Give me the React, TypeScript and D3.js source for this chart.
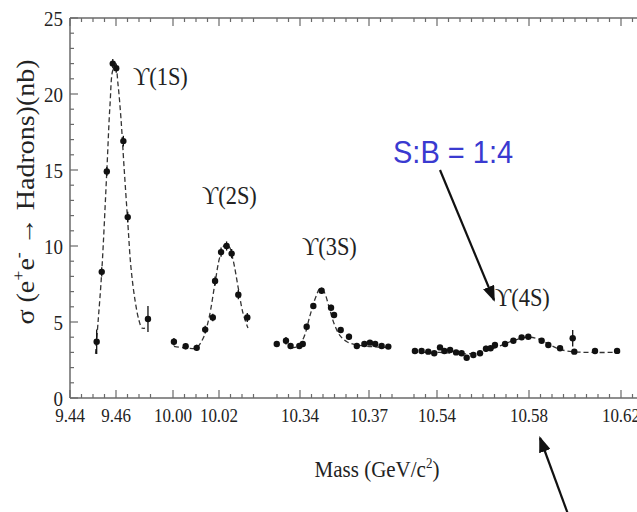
import React from "react";
import * as d3 from "d3";

// ---- Data ----
const mass1S = [9.4516, 9.4538, 9.456, 9.4586, 9.4601, 9.4632, 9.4651, 9.4739];
const sigma1S = [3.7, 8.3, 14.9, 22.0, 21.7, 16.9, 11.9, 5.2];
const err1S = [0.8, 0.3, 0.3, 0.3, 0.3, 0.35, 0.35, 0.85];

const mass2S = [10.0004, 10.0055, 10.0103, 10.014, 10.0173, 10.0183, 10.0209, 10.0233, 10.0255, 10.0284, 10.0323];
const sigma2S = [3.7, 3.4, 3.3, 4.5, 5.3, 7.7, 9.6, 10.0, 9.5, 6.8, 5.3];
const err2S = [0.25, 0.2, 0.2, 0.25, 0.25, 0.3, 0.3, 0.3, 0.3, 0.3, 0.3];

const mass3S = [10.3299, 10.3339, 10.3359, 10.3397, 10.3412, 10.3429, 10.3458, 10.3494, 10.3535, 10.3548, 10.3577, 10.3613, 10.3647, 10.368, 10.3704, 10.3727, 10.3755, 10.3784];
const sigma3S = [3.55, 3.77, 3.42, 3.42, 3.55, 4.69, 6.05, 7.06, 5.94, 5.46, 4.47, 4.03, 3.42, 3.55, 3.64, 3.55, 3.42, 3.38];
const err3S = [0.2, 0.25, 0.2, 0.2, 0.2, 0.2, 0.2, 0.2, 0.2, 0.2, 0.2, 0.2, 0.15, 0.15, 0.15, 0.15, 0.15, 0.15];

const mass4S = [10.5304, 10.5333, 10.5362, 10.5388, 10.5413, 10.5432, 10.5457, 10.5483, 10.5507, 10.5529, 10.5558, 10.5587, 10.5613, 10.5633, 10.5652, 10.5696, 10.5732, 10.5768, 10.5797, 10.5855, 10.5884, 10.5935, 10.599, 10.5997, 10.6087, 10.6183];
const sigma4S = [3.09, 3.09, 3.05, 2.94, 3.33, 3.09, 3.16, 3.0, 2.94, 2.65, 2.83, 2.94, 3.24, 3.27, 3.49, 3.55, 3.77, 3.99, 4.03, 3.77, 3.49, 3.27, 3.93, 3.05, 3.09, 3.1];
const err4S = [0.12, 0.12, 0.12, 0.12, 0.15, 0.12, 0.12, 0.12, 0.12, 0.12, 0.12, 0.12, 0.2, 0.12, 0.12, 0.12, 0.12, 0.12, 0.12, 0.12, 0.12, 0.12, 0.55, 0.12, 0.15, 0.15];

// fitted curves (dashed)
const fitMass1S = [9.4511, 9.4522, 9.4538, 9.456, 9.4574, 9.4587, 9.4598, 9.4609, 9.4622, 9.4635, 9.4651, 9.4665, 9.4683, 9.47, 9.4713, 9.4726];
const fitSigma1S = [2.9, 5.0, 8.3, 14.9, 19.3, 21.6, 21.8, 20.6, 18.3, 15.2, 11.6, 8.6, 6.4, 5.1, 4.6, 4.6];
const fitMass2S = [10.0004, 10.0052, 10.01, 10.013, 10.0157, 10.0183, 10.0204, 10.0226, 10.0243, 10.0261, 10.0283, 10.0304, 10.0326];
const fitSigma2S = [3.4, 3.3, 3.3, 3.9, 5.3, 7.6, 9.3, 10.1, 10.0, 9.1, 7.3, 5.6, 4.6];
const fitMass3S = [10.3361, 10.3391, 10.3417, 10.3443, 10.347, 10.3487, 10.3504, 10.3526, 10.3548, 10.3574, 10.3604, 10.3643, 10.3691, 10.3748, 10.3791];
const fitSigma3S = [3.3, 3.4, 4.0, 5.4, 6.7, 7.2, 7.0, 6.0, 4.9, 4.1, 3.7, 3.5, 3.4, 3.35, 3.3];
const fitMass4S = [10.5296, 10.5413, 10.5522, 10.5587, 10.5652, 10.5717, 10.577, 10.5804, 10.5848, 10.5891, 10.5935, 10.5987, 10.6065, 10.6196];
const fitSigma4S = [3.0, 3.0, 2.9, 3.0, 3.3, 3.7, 3.95, 4.0, 3.85, 3.5, 3.2, 3.05, 3.0, 3.0];

// broken axis segments (mass domains)
const segDomains = [
  [9.44, 9.4775],
  [9.9975, 10.0375],
  [10.3275, 10.3825],
  [10.5275, 10.655],
];
const segTickStart = [9.44, 10.0, 10.33, 10.53];
const segTickEnd = [9.475, 10.035, 10.38, 10.625];
const xTickLabels = ["9.44", "9.46", "10.00", "10.02", "10.34", "10.37", "10.54", "10.58", "10.62"];
const yTicks = [0, 5, 10, 15, 20, 25];

const peakLabels = ["1S", "2S", "3S", "4S"];

// ---- Layout ----
const W = 637, H = 512;
const left = 70, top = 18, bottom = 398, right = 645;
const pxPerGeV = 2300;
const segPixelStarts = [70, 167.25, 271.25, 408.25];

const segScales = segDomains.map((d, i) =>
  d3.scaleLinear().domain(d).range([segPixelStarts[i], segPixelStarts[i] + (d[1] - d[0]) * pxPerGeV])
);
const x = (m: number) => {
  for (const s of segScales) {
    const [a, b] = s.domain();
    if (m >= a - 1e-9 && m <= b + 1e-9) return s(m);
  }
  return NaN;
};
const y = d3.scaleLinear().domain([0, 25]).range([bottom, top]);

const serif = "'Liberation Serif', 'Times New Roman', 'DejaVu Serif', serif";
const VS = 1.14; // vertical stretch of the reference's lettering

const groups = [
  { m: mass1S, s: sigma1S, e: err1S, fm: fitMass1S, fs: fitSigma1S },
  { m: mass2S, s: sigma2S, e: err2S, fm: fitMass2S, fs: fitSigma2S },
  { m: mass3S, s: sigma3S, e: err3S, fm: fitMass3S, fs: fitSigma3S },
  { m: mass4S, s: sigma4S, e: err4S, fm: fitMass4S, fs: fitSigma4S },
];

const labelPos = [
  [133, 85],
  [202, 204],
  [302, 255],
  [495, 306],
];

export default function App() {
  const line = d3
    .line<[number, number]>()
    .x((d) => x(d[0]))
    .y((d) => y(d[1]))
    .curve(d3.curveCatmullRom.alpha(0.5));

  // x ticks
  const xTicks: { v: number; major: boolean }[] = [];
  segTickStart.forEach((s, i) => {
    const n = Math.round((segTickEnd[i] - s) / 0.005);
    for (let k = 0; k <= n; k++) {
      const v = +(s + k * 0.005).toFixed(3);
      const major = xTickLabels.some((l) => Math.abs(+l - v) < 1e-6);
      xTicks.push({ v, major });
    }
  });
  const yMinor = d3.range(0, 26, 1);

  const axisColor = "#6a6a6a";

  return (
    <svg
      width={W}
      height={H}
      style={{ position: "absolute", left: 0, top: 0, background: "#fff" }}
      xmlns="http://www.w3.org/2000/svg"
    >
      <defs>
        <marker id="ah" markerUnits="userSpaceOnUse" markerWidth="16" markerHeight="12" refX="14" refY="6" orient="auto">
          <path d="M0,0 L16,6 L0,12 Z" fill="#111" />
        </marker>
      </defs>
      <rect x={0} y={0} width={W} height={H} fill="#fff" />

      {/* frame */}
      <g stroke={axisColor} strokeWidth={1.5} fill="none">
        <line x1={left} y1={top} x2={right} y2={top} />
        <line x1={left} y1={bottom} x2={right} y2={bottom} />
        <line x1={left} y1={top} x2={left} y2={bottom} />
      </g>

      {/* ticks */}
      <g stroke={axisColor} strokeWidth={1.2}>
        {xTicks.map((t, i) => {
          const xx = x(t.v);
          const len = t.major ? 8 : 4;
          return (
            <g key={i}>
              <line x1={xx} x2={xx} y1={bottom} y2={bottom - len} />
              <line x1={xx} x2={xx} y1={top} y2={top + len} />
            </g>
          );
        })}
        {yMinor.map((v) => (
          <line key={v} x1={left} x2={left + (v % 5 === 0 ? 8 : 4)} y1={y(v)} y2={y(v)} />
        ))}
      </g>

      {/* x tick labels */}
      <g fontFamily={serif} fontSize={17} fill="#222" textAnchor="middle">
        {xTickLabels.map((l) => (
          <text key={l} transform={`translate(${x(+l)},422) scale(1,${VS})`}>
            {l}
          </text>
        ))}
      </g>
      {/* y tick labels */}
      <g fontFamily={serif} fontSize={19} fill="#222" textAnchor="end">
        {yTicks.map((v) => (
          <text key={v} transform={`translate(63,${y(v) + 7.5}) scale(1,${VS})`}>
            {v}
          </text>
        ))}
      </g>

      {/* axis titles */}
      <text
        transform={`translate(377,477) scale(1,${VS})`}
        fontFamily={serif}
        fontSize={21}
        fill="#222"
        textAnchor="middle"
      >
        Mass (GeV/c<tspan dy={-8} fontSize={13}>2</tspan>
        <tspan dy={8}>)</tspan>
      </text>
      <text
        transform="translate(34,192) rotate(-90) scale(1.12,1)"
        fontFamily={serif}
        fontSize={25}
        fill="#222"
        textAnchor="middle"
      >
        σ (e<tspan dy={-10} fontSize={16}>+</tspan>
        <tspan dy={10}>e</tspan>
        <tspan dy={-10} fontSize={16}>-</tspan>
        <tspan dy={10}> → Hadrons)(nb)</tspan>
      </text>

      {/* fitted curves */}
      <g fill="none" stroke="#333" strokeWidth={1.3} strokeDasharray="5,3">
        {groups.map((g, i) => (
          <path key={i} d={line(g.fm.map((m, k) => [m, g.fs[k]] as [number, number])) || ""} />
        ))}
      </g>

      {/* data points */}
      {groups.map((g, i) => (
        <g key={i}>
          {g.m.map((m, k) => (
            <g key={k}>
              <line
                x1={x(m)}
                x2={x(m)}
                y1={y(g.s[k] - g.e[k])}
                y2={y(g.s[k] + g.e[k])}
                stroke="#111"
                strokeWidth={1.3}
              />
              <circle cx={x(m)} cy={y(g.s[k])} r={3.2} fill="#111" />
            </g>
          ))}
        </g>
      ))}

      {/* resonance labels */}
      <g fontFamily={serif} fontSize={22} fill="#222">
        {peakLabels.map((p, i) => (
          <text key={p} transform={`translate(${labelPos[i][0]},${labelPos[i][1]}) scale(1.02,${VS})`}>
            {"\u03D2(" + p + ")"}
          </text>
        ))}
      </g>

      {/* S:B annotation */}
      <text
        transform={`translate(393,163) scale(1,1.08)`}
        fontFamily="'Liberation Sans', Arial, sans-serif"
        fontSize={29}
        fill="#3a3ad0"
      >
        S:B = 1:4
      </text>
      <line x1={440} y1={170} x2={494} y2={300} stroke="#111" strokeWidth={2.2} markerEnd="url(#ah)" />
      <line x1={572} y1={525} x2={540} y2={438} stroke="#111" strokeWidth={2.2} markerEnd="url(#ah)" />
    </svg>
  );
}
